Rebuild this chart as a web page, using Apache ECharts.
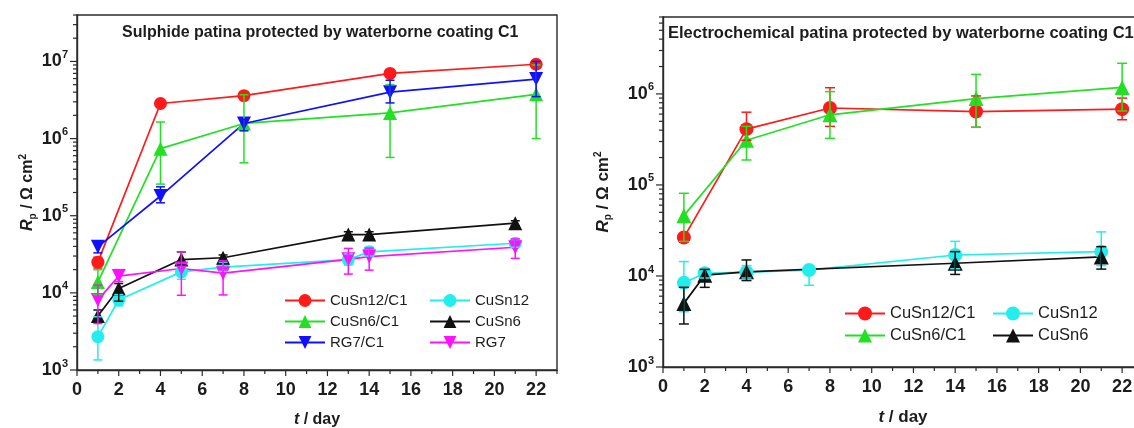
<!DOCTYPE html>
<html>
<head>
<meta charset="utf-8">
<script src="https://cdn.jsdelivr.net/npm/echarts@6/dist/echarts.min.js"></script>
<style>
  html, body { margin: 0; padding: 0; background: #ffffff; }
  #chart { width: 1134px; height: 428px; }
</style>
</head>
<body>
<div id="chart"></div>
<script>
// Polarisation resistance Rp (Ω·cm²) versus exposure time (days)

// ---------- Sulphide patina (left panel) ----------
const sulDaysC1   = [1, 4, 8, 15, 22];
const sulDaysBare = [1, 2, 5, 7, 13, 14, 21];

const sulCuSn12C1   = [2.5e4, 2.85e6, 3.6e6, 7.0e6, 9.2e6];
const sulCuSn12C1Lo = [2.1e4, 2.65e6, 3.3e6, 6.4e6, 8.6e6];
const sulCuSn12C1Hi = [2.9e4, 3.05e6, 3.9e6, 7.6e6, 9.8e6];

const sulCuSn6C1   = [1.38e4, 7.4e5, 1.57e6, 2.15e6, 3.75e6];
const sulCuSn6C1Lo = [9.5e3, 2.57e5, 4.85e5, 5.7e5, 1.0e6];
const sulCuSn6C1Hi = [2.0e4, 1.64e6, 3.7e6, 5.0e6, 9.0e6];

const sulRG7C1   = [3.95e4, 1.8e5, 1.57e6, 4.0e6, 5.9e6];
const sulRG7C1Lo = [3.3e4, 1.47e5, 1.26e6, 2.9e6, 3.5e6];
const sulRG7C1Hi = [4.6e4, 2.37e5, 1.78e6, 5.7e6, 1.0e7];

const sulCuSn12   = [2.7e3, 8.1e3, 1.87e4, 2.15e4, 2.7e4, 3.4e4, 4.4e4];
const sulCuSn12Lo = [1.35e3, 6.8e3, 1.5e4, 1.9e4, 2.3e4, 3.0e4, 3.9e4];
const sulCuSn12Hi = [4.9e3, 9.5e3, 2.3e4, 2.5e4, 3.2e4, 3.9e4, 5.0e4];

const sulCuSn6   = [5.0e3, 1.14e4, 2.7e4, 2.85e4, 5.7e4, 5.7e4, 8.0e4];
const sulCuSn6Lo = [4.2e3, 7.8e3, 2.3e4, 2.6e4, 5.3e4, 5.3e4, 7.4e4];
const sulCuSn6Hi = [6.0e3, 1.32e4, 3.4e4, 3.1e4, 6.2e4, 6.2e4, 8.6e4];

const sulRG7   = [8.1e3, 1.65e4, 2.07e4, 1.8e4, 2.72e4, 2.95e4, 3.9e4];
const sulRG7Lo = [4.0e3, 1.4e4, 9.3e3, 9.4e3, 1.75e4, 1.97e4, 2.8e4];
const sulRG7Hi = [1.26e4, 2.0e4, 3.4e4, 2.6e4, 3.77e4, 3.8e4, 5.0e4];

// ---------- Electrochemical patina (right panel) ----------
const eleDaysC1     = [1, 4, 8, 15, 22];
const eleDaysCuSn12 = [1, 2, 4, 7, 14, 21];
const eleDaysCuSn6  = [1, 2, 4, 14, 21];

const eleCuSn12C1   = [2.65e4, 4.1e5, 7.0e5, 6.4e5, 6.8e5];
const eleCuSn12C1Lo = [2.4e4, 3.1e5, 4.4e5, 4.3e5, 5.2e5];
const eleCuSn12C1Hi = [2.9e4, 6.3e5, 1.17e6, 9.5e5, 9.0e5];

const eleCuSn6C1   = [4.6e4, 3.1e5, 5.9e5, 8.9e5, 1.18e6];
const eleCuSn6C1Lo = [2.4e4, 1.88e5, 3.25e5, 4.3e5, 6.5e5];
const eleCuSn6C1Hi = [8.1e4, 4.4e5, 1.06e6, 1.64e6, 2.17e6];

const eleCuSn12   = [8.4e3, 1.07e4, 1.1e4, 1.16e4, 1.7e4, 1.85e4];
const eleCuSn12Lo = [4.05e3, 9.5e3, 9.5e3, 7.9e3, 1.2e4, 1.3e4];
const eleCuSn12Hi = [1.44e4, 1.2e4, 1.3e4, 1.3e4, 2.4e4, 3.05e4];

const eleCuSn6   = [5.0e3, 1.02e4, 1.11e4, 1.38e4, 1.62e4];
const eleCuSn6Lo = [2.97e3, 7.5e3, 8.9e3, 1.04e4, 1.19e4];
const eleCuSn6Hi = [7.5e3, 1.18e4, 1.5e4, 1.85e4, 2.1e4];

// ---------- Axis settings ----------
const xMajorTicks = [0, 2, 4, 6, 8, 10, 12, 14, 16, 18, 20, 22];
const xMinorTicks = [1, 3, 5, 7, 9, 11, 13, 15, 17, 19, 21, 23];
const yDecades = [3, 4, 5, 6, 7];
const yMantissas = [2, 3, 4, 5, 6, 7, 8, 9];

const titles = [
  'Sulphide patina protected by waterborne coating C1',
  'Electrochemical patina protected by waterborne coating C1'
];

const FONT = '"Liberation Sans", Arial, sans-serif';
const AXIS_COLOR = '#2a2a2a';
const TEXT_COLOR = '#1c1c1c';
const C = {
  red: '#ff1a1a', green: '#22e022', blue: '#1010ff',
  cyan: '#22eeee', black: '#111111', magenta: '#ff10ff'
};

const Y_MAX = [4e7, 7e6];
const Y_MIN = 1e3;

function lineSeries(name, g, days, vals, color, symbol, size, rotate) {
  return {
    type: 'line', name: name, xAxisIndex: g, yAxisIndex: g,
    data: days.map((d, i) => [d, vals[i]]),
    symbol: symbol, symbolSize: size, symbolRotate: rotate || 0,
    showAllSymbol: true,
    lineStyle: { color: color, width: 1.7 },
    itemStyle: { color: color },
    z: 3, animation: false, silent: true
  };
}

function errSeries(g, days, lo, hi, color, cap) {
  return {
    type: 'custom', xAxisIndex: g, yAxisIndex: g, z: 4, silent: true, animation: false,
    data: days.map((d, i) => [d, lo[i], hi[i]]),
    encode: { x: 0, y: [1, 2] },
    renderItem: function (params, api) {
      const top = api.coord([api.value(0), api.value(2)]);
      const bot = api.coord([api.value(0), api.value(1)]);
      const h = cap / 2;
      const st = { stroke: color, lineWidth: 1.5 };
      return {
        type: 'group',
        children: [
          { type: 'line', shape: { x1: top[0], y1: top[1], x2: bot[0], y2: bot[1] }, style: st },
          { type: 'line', shape: { x1: top[0] - h, y1: top[1], x2: top[0] + h, y2: top[1] }, style: st },
          { type: 'line', shape: { x1: bot[0] - h, y1: bot[1], x2: bot[0] + h, y2: bot[1] }, style: st }
        ]
      };
    }
  };
}

// tick marks drawn outward from the axes, placed through the axis scales
function yTickSeries(g, values, len) {
  return {
    type: 'custom', xAxisIndex: g, yAxisIndex: g, z: 1, silent: true, animation: false, clip: false,
    data: values.map(v => [0, v]),
    renderItem: function (params, api) {
      const c = api.coord([0, api.value(1)]);
      return { type: 'line', shape: { x1: c[0] - len, y1: c[1], x2: c[0], y2: c[1] },
               style: { stroke: AXIS_COLOR, lineWidth: 1.2 } };
    }
  };
}
function xTickSeries(g, values, len) {
  return {
    type: 'custom', xAxisIndex: g, yAxisIndex: g, z: 1, silent: true, animation: false, clip: false,
    data: values.map(v => [v, Y_MIN]),
    renderItem: function (params, api) {
      const c = api.coord([api.value(0), Y_MIN]);
      return { type: 'line', shape: { x1: c[0], y1: c[1], x2: c[0], y2: c[1] + len },
               style: { stroke: AXIS_COLOR, lineWidth: 1.2 } };
    }
  };
}

function minorValues(maxV) {
  const out = [];
  yDecades.forEach(e => yMantissas.forEach(m => {
    const v = m * Math.pow(10, e);
    if (v <= maxV) out.push(v);
  }));
  return out;
}
function majorValues(maxV) {
  return yDecades.map(e => Math.pow(10, e)).filter(v => v <= maxV);
}

function yAxis(g, fs, nfs, gap) {
  return {
    type: 'log', gridIndex: g, min: Y_MIN, max: Y_MAX[g], logBase: 10,
    axisLine: { show: true, lineStyle: { color: AXIS_COLOR, width: 1.4 } },
    axisTick: { show: false },
    splitLine: { show: false },
    axisLabel: {
      margin: 9,
      formatter: function (v) {
        const l = Math.log10(v);
        const e = Math.round(l);
        return Math.abs(l - e) < 1e-6 ? '{b|10}{s|' + e + '}' : '';
      },
      rich: {
        b: { fontFamily: FONT, fontWeight: 'bold', fontSize: fs, lineHeight: fs + 6, color: TEXT_COLOR },
        s: { fontFamily: FONT, fontWeight: 'bold', fontSize: Math.round(fs * 0.6), lineHeight: 10,
             verticalAlign: 'top', color: TEXT_COLOR }
      }
    },
    name: '{i|R}{sub|p}{n| / Ω cm}{sup|2}',
    nameLocation: 'middle', nameRotate: 90, nameGap: gap,
    nameTextStyle: {
      rich: {
        i: { fontFamily: FONT, fontWeight: 'bold', fontStyle: 'italic', fontSize: nfs, lineHeight: 20, color: TEXT_COLOR },
        sub: { fontFamily: FONT, fontWeight: 'bold', fontSize: 10, lineHeight: 8, verticalAlign: 'bottom', color: TEXT_COLOR },
        n: { fontFamily: FONT, fontWeight: 'bold', fontSize: nfs, lineHeight: 20, color: TEXT_COLOR },
        sup: { fontFamily: FONT, fontWeight: 'bold', fontSize: 10, lineHeight: 8, verticalAlign: 'top', color: TEXT_COLOR }
      }
    }
  };
}

function xAxis(g, fs, nfs) {
  return {
    type: 'value', gridIndex: g, min: 0, max: 23, interval: 2,
    axisLine: { show: true, onZero: false, lineStyle: { color: AXIS_COLOR, width: 1.4 } },
    axisTick: { show: false },
    splitLine: { show: false },
    axisLabel: {
      margin: 11, fontFamily: FONT, fontWeight: 'bold', fontSize: fs, color: TEXT_COLOR,
      formatter: v => (xMajorTicks.indexOf(v) >= 0 ? String(v) : '')
    },
    name: '{i|t}{n| / day}',
    nameLocation: 'middle', nameGap: 42,
    nameTextStyle: {
      rich: {
        i: { fontFamily: FONT, fontWeight: 'bold', fontStyle: 'italic', fontSize: nfs, color: TEXT_COLOR },
        n: { fontFamily: FONT, fontWeight: 'bold', fontSize: nfs, color: TEXT_COLOR }
      }
    }
  };
}

function legend(left, top, names, fs, ih, gap) {
  return {
    orient: 'vertical', left: left, top: top, data: names, padding: 0,
    itemWidth: 40, itemHeight: ih, itemGap: gap, selectedMode: false,
    textStyle: { fontFamily: FONT, fontSize: fs, color: TEXT_COLOR }
  };
}

const series = [
  // left panel
  lineSeries('CuSn12/C1', 0, sulDaysC1, sulCuSn12C1, C.red, 'circle', 13),
  lineSeries('CuSn6/C1', 0, sulDaysC1, sulCuSn6C1, C.green, 'triangle', 14),
  lineSeries('RG7/C1', 0, sulDaysC1, sulRG7C1, C.blue, 'triangle', 14, 180),
  lineSeries('CuSn12', 0, sulDaysBare, sulCuSn12, C.cyan, 'circle', 13),
  lineSeries('CuSn6', 0, sulDaysBare, sulCuSn6, C.black, 'triangle', 14),
  lineSeries('RG7', 0, sulDaysBare, sulRG7, C.magenta, 'triangle', 14, 180),
  errSeries(0, sulDaysC1, sulCuSn12C1Lo, sulCuSn12C1Hi, C.red, 9),
  errSeries(0, sulDaysC1, sulCuSn6C1Lo, sulCuSn6C1Hi, C.green, 9),
  errSeries(0, sulDaysC1, sulRG7C1Lo, sulRG7C1Hi, C.blue, 9),
  errSeries(0, sulDaysBare, sulCuSn12Lo, sulCuSn12Hi, C.cyan, 9),
  errSeries(0, sulDaysBare, sulCuSn6Lo, sulCuSn6Hi, C.black, 9),
  errSeries(0, sulDaysBare, sulRG7Lo, sulRG7Hi, C.magenta, 9),
  // right panel
  lineSeries('CuSn12/C1', 1, eleDaysC1, eleCuSn12C1, C.red, 'circle', 14),
  lineSeries('CuSn6/C1', 1, eleDaysC1, eleCuSn6C1, C.green, 'triangle', 15),
  lineSeries('CuSn12', 1, eleDaysCuSn12, eleCuSn12, C.cyan, 'circle', 14),
  lineSeries('CuSn6', 1, eleDaysCuSn6, eleCuSn6, C.black, 'triangle', 15),
  errSeries(1, eleDaysC1, eleCuSn12C1Lo, eleCuSn12C1Hi, C.red, 10),
  errSeries(1, eleDaysC1, eleCuSn6C1Lo, eleCuSn6C1Hi, C.green, 10),
  errSeries(1, eleDaysCuSn12, eleCuSn12Lo, eleCuSn12Hi, C.cyan, 10),
  errSeries(1, eleDaysCuSn6, eleCuSn6Lo, eleCuSn6Hi, C.black, 10),
  // axis ticks
  yTickSeries(0, majorValues(Y_MAX[0]), 7), yTickSeries(0, minorValues(Y_MAX[0]), 4),
  yTickSeries(1, majorValues(Y_MAX[1]), 7), yTickSeries(1, minorValues(Y_MAX[1]), 4),
  xTickSeries(0, xMajorTicks, 6), xTickSeries(0, xMinorTicks, 4),
  xTickSeries(1, xMajorTicks, 6), xTickSeries(1, xMinorTicks, 4)
];

const option = {
  backgroundColor: '#ffffff',
  animation: false,
  title: [
    { text: titles[0], left: 122, top: 25, padding: 0,
      textStyle: { fontFamily: FONT, fontWeight: 'bold', fontSize: 16, color: TEXT_COLOR } },
    { text: titles[1], left: 668, top: 25, padding: 0,
      textStyle: { fontFamily: FONT, fontWeight: 'bold', fontSize: 16.5, color: TEXT_COLOR } }
  ],
  grid: [
    { left: 77, top: 15, width: 480, height: 355, outerBoundsMode: 'none',
      show: true, borderColor: AXIS_COLOR, borderWidth: 1.4, backgroundColor: 'transparent' },
    { left: 663, top: 17, width: 480, height: 350, outerBoundsMode: 'none',
      show: true, borderColor: AXIS_COLOR, borderWidth: 1.4, backgroundColor: 'transparent' }
  ],
  xAxis: [xAxis(0, 18, 16), xAxis(1, 18, 17)],
  yAxis: [yAxis(0, 18, 16, 38), yAxis(1, 18, 17, 50)],
  legend: [
    legend(284, 293, ['CuSn12/C1', 'CuSn6/C1', 'RG7/C1'], 15, 16, 6),
    legend(429, 293, ['CuSn12', 'CuSn6', 'RG7'], 15, 16, 6),
    legend(844, 305, ['CuSn12/C1', 'CuSn6/C1'], 16.5, 17.5, 5),
    legend(992, 305, ['CuSn12', 'CuSn6'], 16.5, 17.5, 5)
  ],
  series: series
};

const chart = echarts.init(document.getElementById('chart'), null, { renderer: 'canvas' });
chart.setOption(option);
</script>
</body>
</html>
